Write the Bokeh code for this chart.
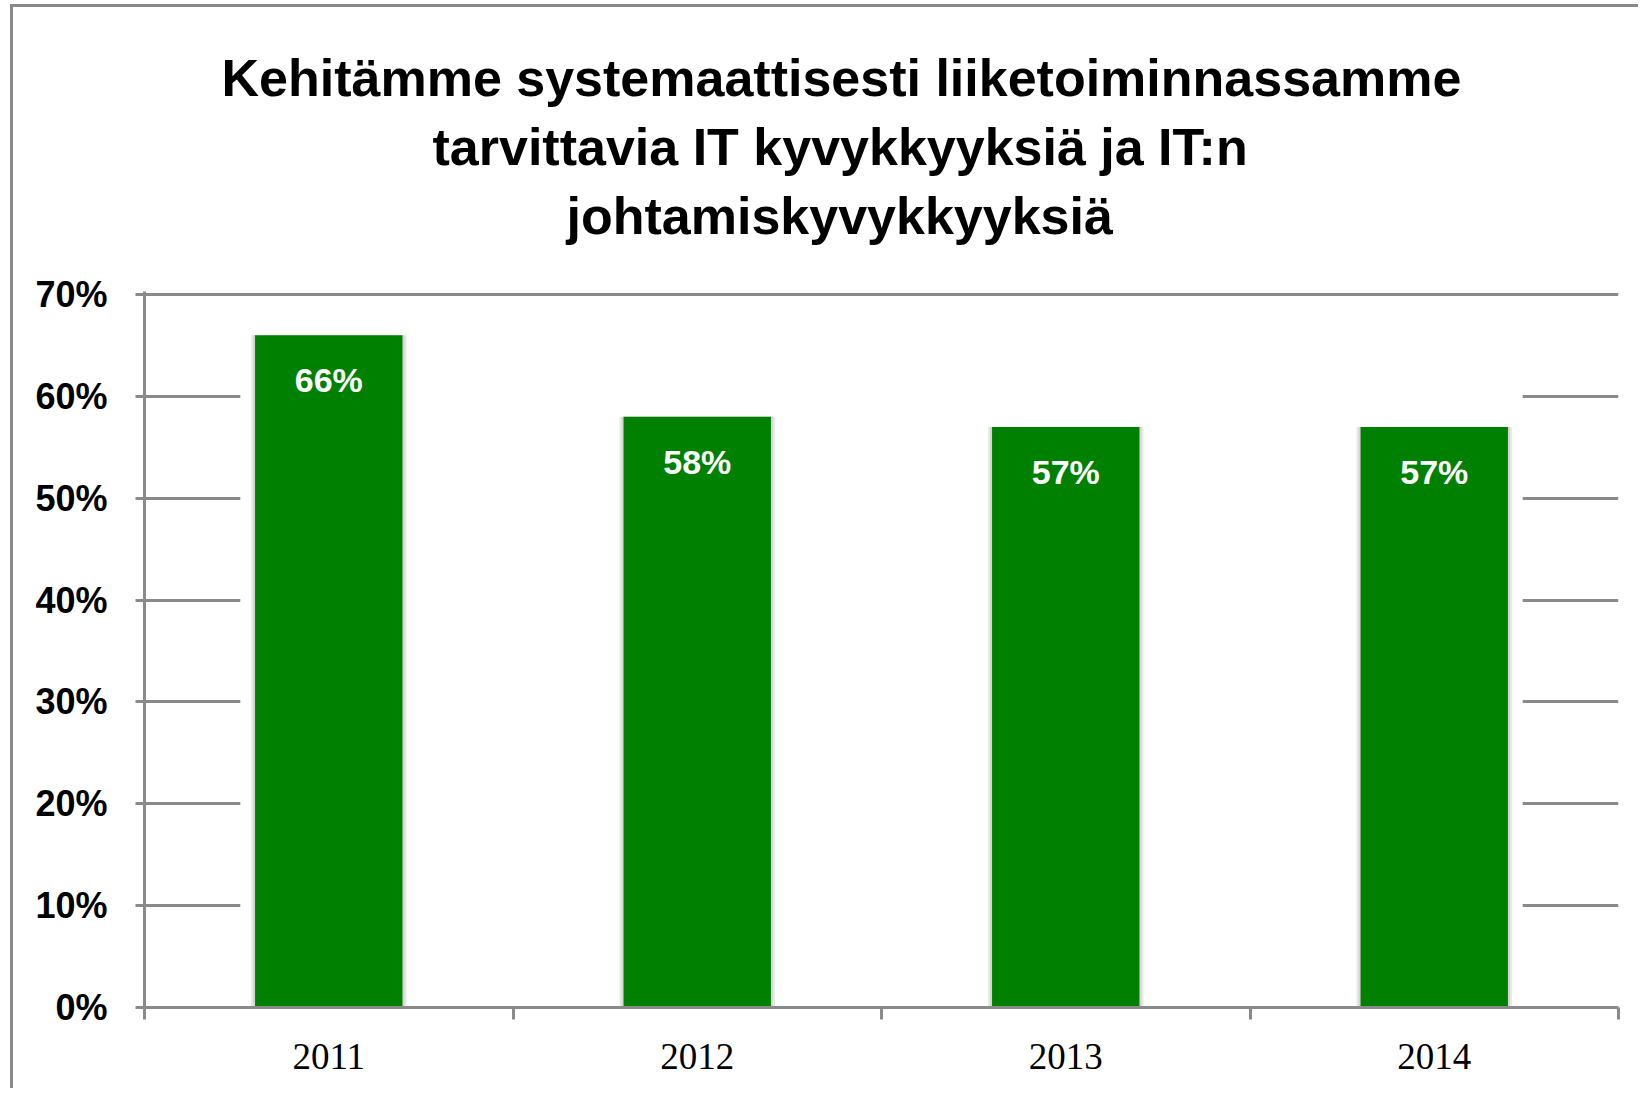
from bokeh.plotting import figure
from bokeh.models import (ColumnDataSource, FixedTicker, Range1d, LabelSet, Title,
                          PrintfTickFormatter)
from bokeh.core.properties import value
from bokeh.embed import file_html
from bokeh.resources import INLINE

# ---- data ----
years = ["2011", "2012", "2013", "2014"]
values = [66, 58, 57, 57]
y_ticks = [0, 10, 20, 30, 40, 50, 60, 70]
title_lines = ["Kehitämme systemaattisesti liiketoiminnassamme",
               "tarvittavia IT kyvykkyyksiä ja IT:n",
               "johtamiskyvykkyyksiä"]

# layout-only: left offsets (px) that centre each title line like the reference
title_offsets = [77, 288, 422]

GREY = "#8a8a8a"
GREEN = "#008000"
BAR_W = 0.4

n = len(years)
centers = [i + 0.5 for i in range(n)]
src = ColumnDataSource(dict(x=centers, top=values, label=[f"{v}%" for v in values]))

W, H = 1628, 1084
p = figure(width=W, height=H, output_backend="svg", toolbar_location=None,
           x_range=Range1d(0, n), y_range=Range1d(0, 70.3),
           min_border_left=131, min_border_right=23, min_border_top=284,
           min_border_bottom=84)
p.title_location = None
p.outline_line_color = None
p.background_fill_color = "white"
p.border_fill_color = "white"
p.styles = {"border-left": f"3px solid {GREY}", "border-top": f"3px solid {GREY}",
            "margin-left": "10px", "margin-top": "4px"}

# grid
p.xgrid.visible = False
p.ygrid.ticker = FixedTicker(ticks=y_ticks)
p.ygrid.grid_line_color = GREY
p.ygrid.grid_line_width = 3

# white panel hiding inner gridlines (as in the reference)
gap = 0.04
p.quad(left=[centers[0] - BAR_W / 2 - gap], right=[centers[-1] + BAR_W / 2 + gap],
       bottom=[0], top=[69], fill_color="white", line_color=None)

# soft shadow behind bars
p.vbar(x="x", top="top", bottom=0, width=BAR_W + 0.022, source=src,
       fill_color="#cfcfcf", fill_alpha=0.45, line_color=None)
p.vbar(x="x", top="top", bottom=0, width=BAR_W + 0.011, source=src,
       fill_color="#bdbdbd", fill_alpha=0.45, line_color=None)

# bars
p.vbar(x="x", top="top", bottom=0, width=BAR_W, source=src,
       fill_color=GREEN, line_color=None)

labels = LabelSet(x="x", y="top", text="label", source=src, y_offset=-45,
                  text_align="center", text_baseline="middle", text_color="white",
                  text_font=value("Liberation Sans"), text_font_style="bold",
                  text_font_size="34px")
p.add_layout(labels)

# y axis
ya = p.yaxis[0]
ya.ticker = FixedTicker(ticks=y_ticks, minor_ticks=[])
ya.formatter = PrintfTickFormatter(format="%d%%")
ya.axis_line_color = GREY
ya.axis_line_width = 3
ya.major_tick_line_color = GREY
ya.major_tick_line_width = 3
ya.major_tick_out = 9
ya.major_tick_in = 0
ya.major_label_standoff = 28
ya.major_label_text_font = "Liberation Sans"
ya.major_label_text_font_style = "bold"
ya.major_label_text_font_size = "36px"
ya.major_label_text_color = "black"

# x axis
xa = p.xaxis[0]
xa.ticker = FixedTicker(ticks=centers, minor_ticks=list(range(n + 1)))
xa.major_label_overrides = {c: y for c, y in zip(centers, years)}
xa.axis_line_color = GREY
xa.axis_line_width = 3
xa.major_tick_out = 0
xa.major_tick_in = 0
xa.minor_tick_out = 12
xa.minor_tick_in = 0
xa.minor_tick_line_color = GREY
xa.minor_tick_line_width = 3
xa.major_label_standoff = 24
xa.major_label_text_font = "Liberation Serif"
xa.major_label_text_font_style = "normal"
xa.major_label_text_font_size = "37px"
xa.major_label_text_color = "black"

# title: spacer nearest the plot, then lines from last to first (stacked upward)
p.add_layout(Title(text=" ", text_font_size="30px", standoff=7), "above")
for txt, off in zip(reversed(title_lines), reversed(title_offsets)):
    p.add_layout(Title(text=txt, align="left", offset=off, standoff=9,
                       text_font="Liberation Sans", text_font_style="bold",
                       text_font_size="52px", text_color="black"), "above")

open("out.html", "w").write(file_html(p, INLINE))
